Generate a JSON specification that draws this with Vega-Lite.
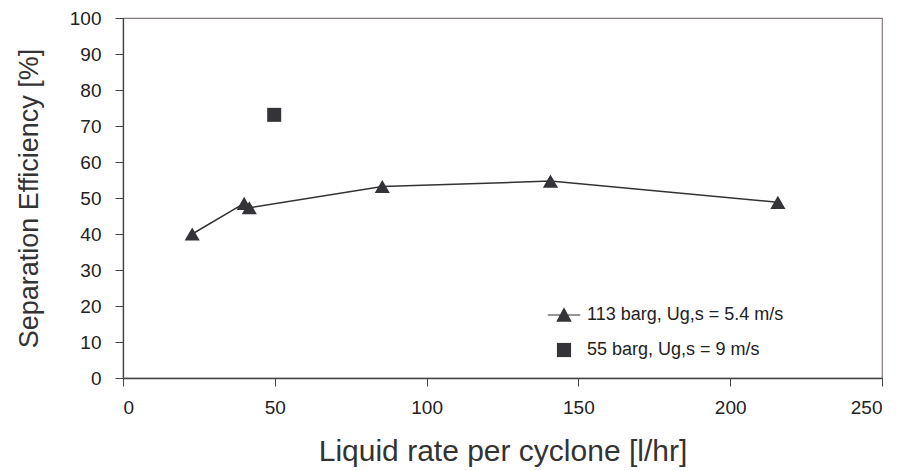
{
  "$schema": "https://vega.github.io/schema/vega-lite/v6.json",
  "width": 759,
  "height": 360,
  "autosize": {"type": "none"},
  "padding": {"left": 123, "top": 18, "right": 15, "bottom": 93},
  "background": "white",
  "config": {
    "font": "Liberation Sans",
    "view": {"stroke": "#857b7b", "strokeWidth": 1.2},
    "axis": {
      "grid": false,
      "domainColor": "#444444",
      "domainWidth": 1.3,
      "tickColor": "#444444",
      "tickSize": 8,
      "labelFont": "Liberation Sans",
      "labelFontSize": 19,
      "labelColor": "#222222",
      "titleFont": "Liberation Sans",
      "titleFontWeight": "normal",
      "titleColor": "#333333"
    }
  },
  "data": {
    "values": [
      {"rate": 22.8, "eff": 40.0, "series": "113 barg, Ug,s = 5.4 m/s"},
      {"rate": 39.9, "eff": 48.5, "series": "113 barg, Ug,s = 5.4 m/s"},
      {"rate": 41.6, "eff": 47.3, "series": "113 barg, Ug,s = 5.4 m/s"},
      {"rate": 85.4, "eff": 53.2, "series": "113 barg, Ug,s = 5.4 m/s"},
      {"rate": 140.8, "eff": 54.7, "series": "113 barg, Ug,s = 5.4 m/s"},
      {"rate": 215.7, "eff": 48.8, "series": "113 barg, Ug,s = 5.4 m/s"},
      {"rate": 49.8, "eff": 73.1, "series": "55 barg, Ug,s = 9 m/s"}
    ]
  },
  "encoding": {
    "x": {
      "field": "rate", "type": "quantitative",
      "scale": {"domain": [0, 250], "nice": false},
      "axis": {"values": [0, 50, 100, 150, 200, 250], "title": "Liquid rate per cyclone [l/hr]", "labelPadding": 12, "titlePadding": 19, "titleFontSize": 30}
    },
    "y": {
      "field": "eff", "type": "quantitative",
      "scale": {"domain": [0, 100], "nice": false},
      "axis": {"values": [0, 10, 20, 30, 40, 50, 60, 70, 80, 90, 100], "title": "Separation Efficiency [%]", "labelPadding": 14, "titlePadding": 26, "titleFontSize": 27}
    }
  },
  "layer": [
    {
      "transform": [{"filter": "datum.series == '113 barg, Ug,s = 5.4 m/s'"}],
      "mark": {"type": "line", "color": "#333333", "strokeWidth": 1.5},
      "encoding": {}
    },
    {
      "mark": {"type": "point", "filled": true, "opacity": 0, "size": 200, "color": "#333338"},
      "encoding": {
        "shape": {
          "field": "series", "type": "nominal",
          "scale": {"domain": ["113 barg, Ug,s = 5.4 m/s", "55 barg, Ug,s = 9 m/s"], "range": ["M-2.3,-0.08H2.3V0.08H-2.3ZM0,-1.1L1.1,0.95H-1.1Z", "square"]},
          "legend": {
            "title": null,
            "orient": "none",
            "legendX": 432,
            "legendY": 288,
            "labelFont": "Liberation Sans",
            "labelFontSize": 18,
            "labelColor": "#222222",
            "labelLimit": 500,
            "symbolSize": 200,
            "symbolOpacity": 1,
            "symbolFillColor": "#333338",
            "rowPadding": 14,
            "labelOffset": 14
          }
        }
      }
    },
    {
      "mark": {"type": "point", "filled": true, "opacity": 1, "color": "#333338"},
      "encoding": {
        "shape": {
          "condition": {"test": "datum.series == '55 barg, Ug,s = 9 m/s'", "value": "square"},
          "value": "triangle-up"
        },
        "size": {
          "condition": {"test": "datum.series == '55 barg, Ug,s = 9 m/s'", "value": 196},
          "value": 230
        }
      }
    }
  ]
}
